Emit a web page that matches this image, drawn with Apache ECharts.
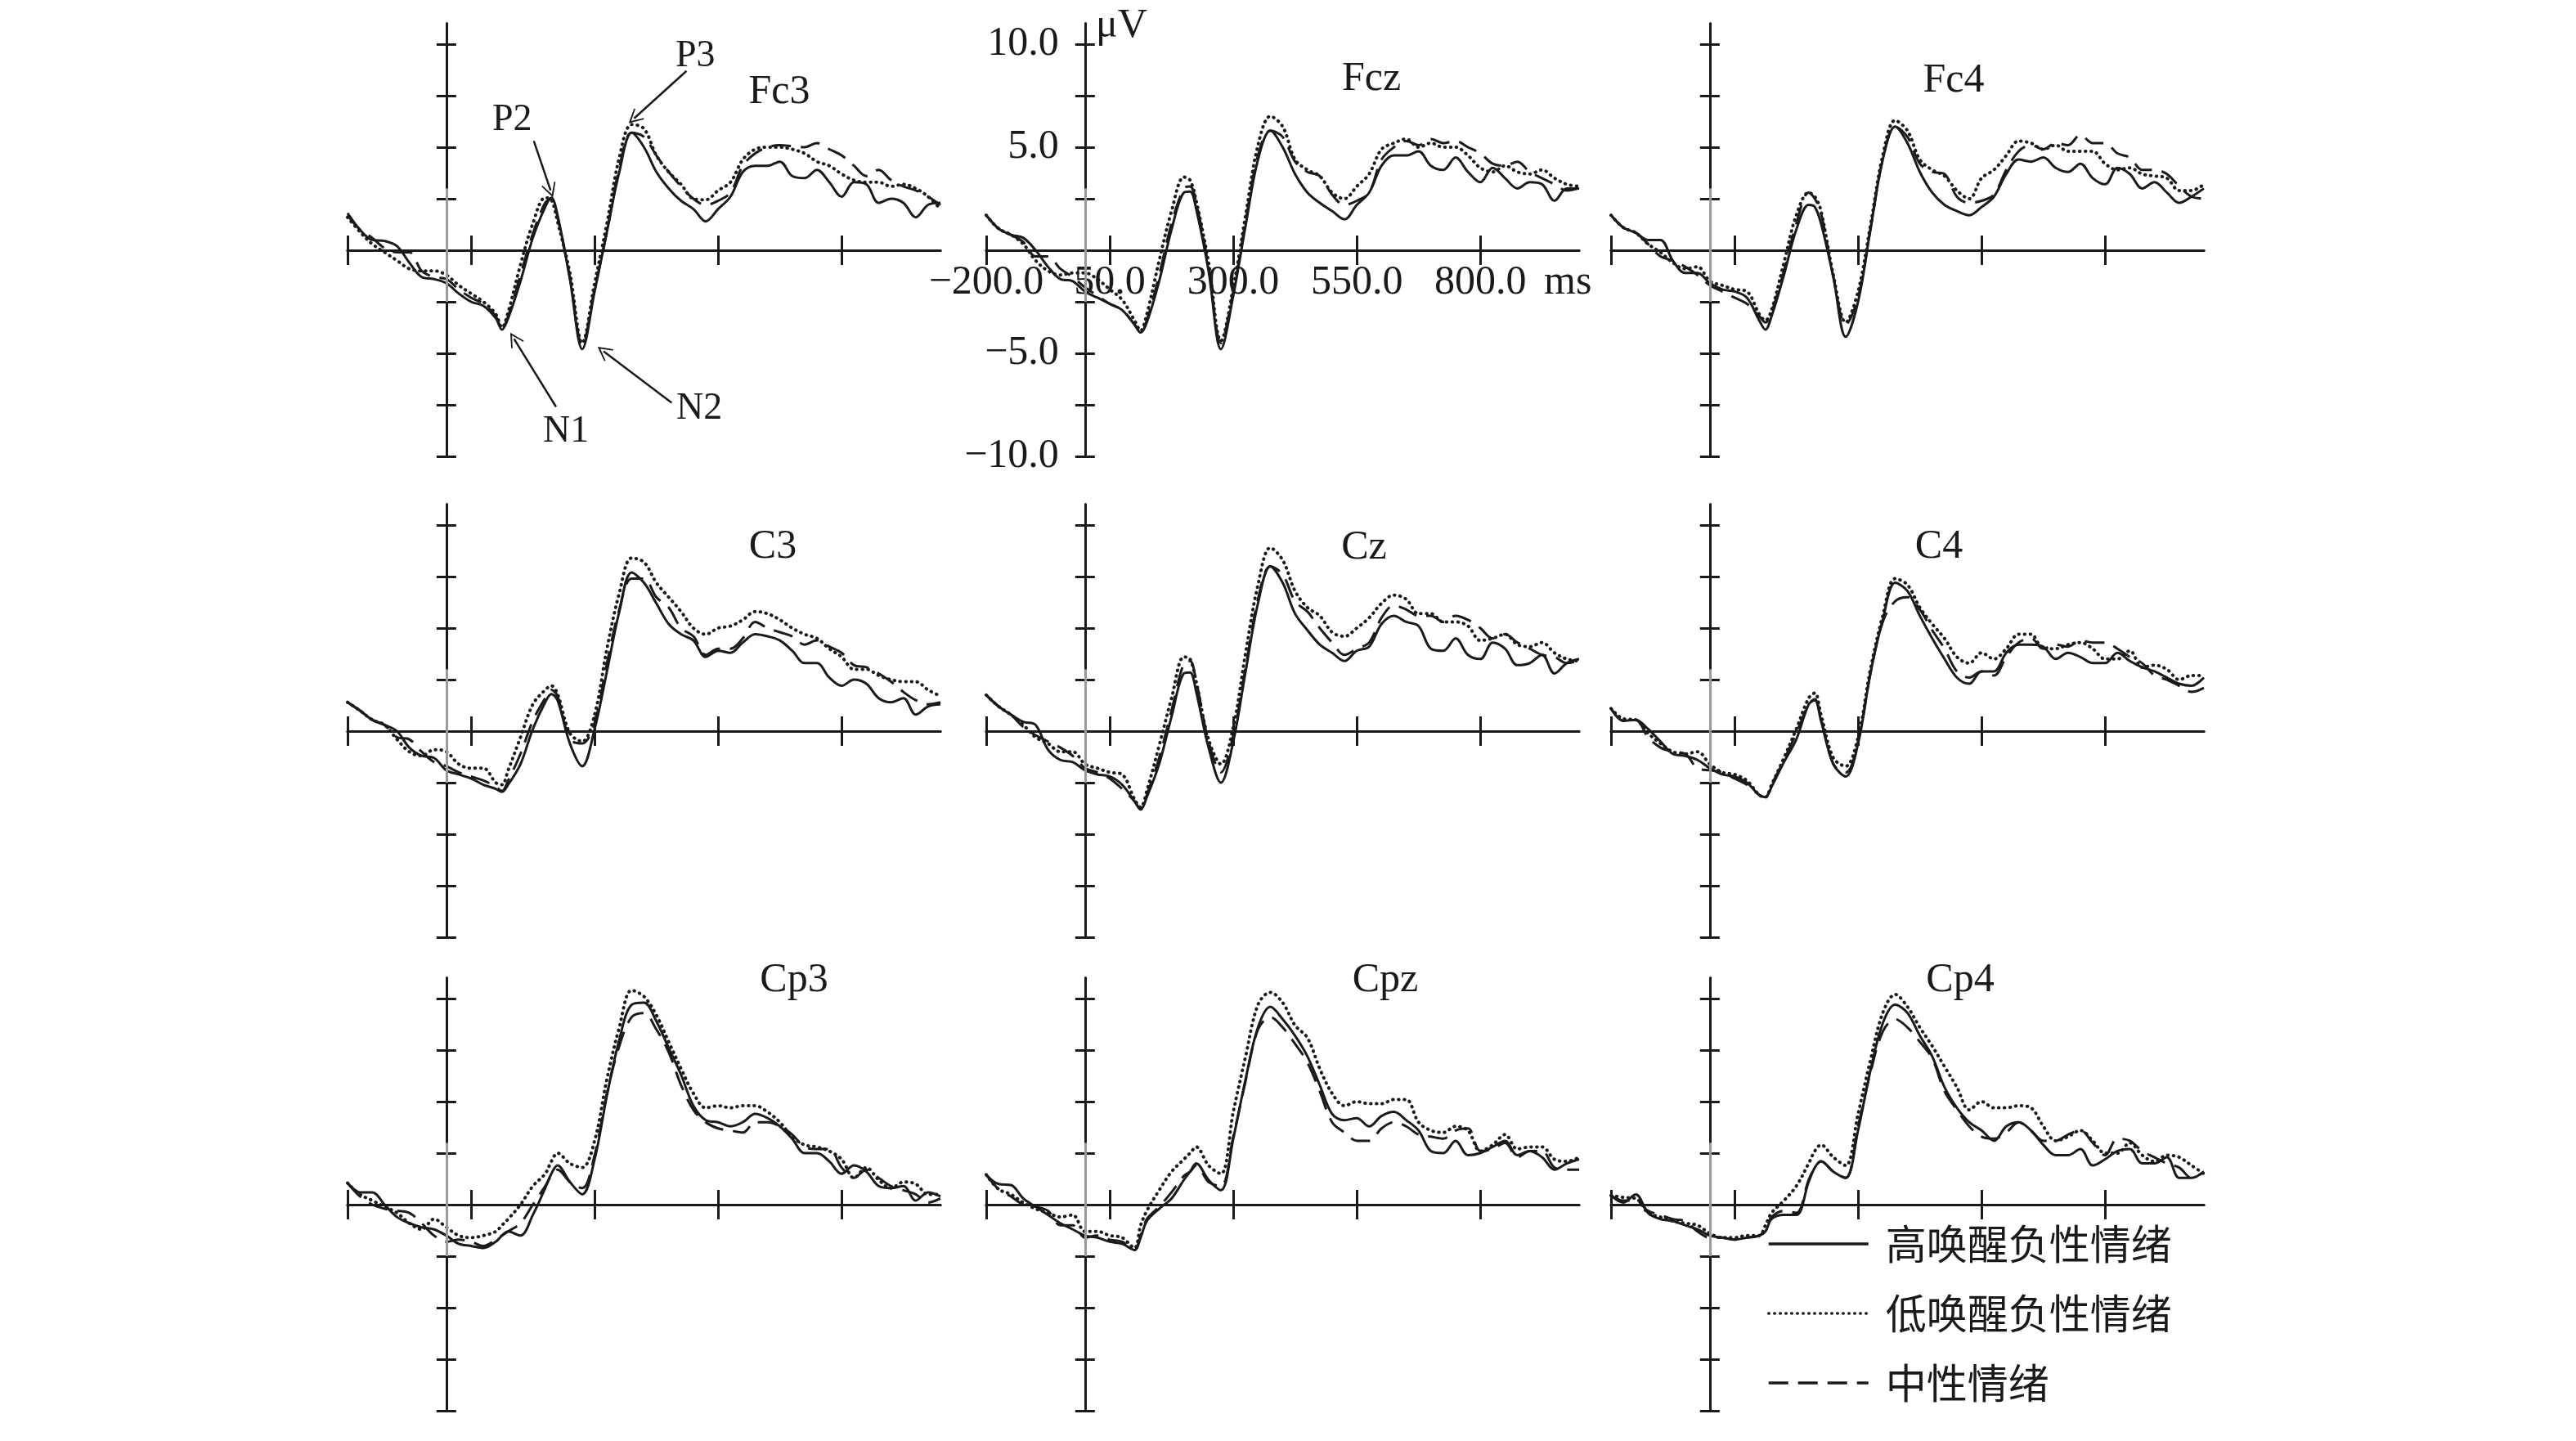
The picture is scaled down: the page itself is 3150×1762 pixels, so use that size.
<!DOCTYPE html>
<html>
<head>
<meta charset="utf-8">
<script src="https://cdn.jsdelivr.net/npm/echarts@6/dist/echarts.min.js"></script>
<style>
html, body { margin: 0; padding: 0; background: #fff; }
#chart { width: 3150px; height: 1762px; }
</style>
</head>
<body>
<div id="chart"></div>
<script>
// time points (ms)
var times = [-200, -175, -150, -125, -100, -75, -50, -25, 0, 25, 50, 75, 100, 112.5,
  125, 150, 175, 200, 212.5,
  225, 250, 275, 300, 325, 350, 375, 400, 425, 450, 475, 500, 525, 550, 575, 600,
  625, 650, 675, 700, 725, 750, 775, 800, 825, 850, 875, 900, 925, 950, 975, 1000];

var seriesNames = ['高唤醒负性情绪', '低唤醒负性情绪', '中性情绪'];
var channels = ['Fc3', 'Fcz', 'Fc4', 'C3', 'Cz', 'C4', 'Cp3', 'Cpz', 'Cp4'];
var xTickValues = [-200, 50, 300, 550, 800];
var yTickValues = [-10, -7.5, -5, -2.5, 0, 2.5, 5, 7.5, 10];
var yLabelValues = [-10, -5, 5, 10];

// amplitudes (μV): high arousal / low arousal / neutral
var fc3High = [1.8, 1.0, 0.5, 0.45, 0.2, -0.6, -1.3, -1.4, -1.6, -2.1, -2.5, -2.7, -3.3, -3.85,
  -3.3, -1.5, 0.6, 2.1, 2.55,
  1.7, -1.4, -4.8, -2.0, 0.9, 3.8, 5.7, 5.0, 3.8, 3.0, 2.4, 2.0, 1.4, 2.0, 2.6, 3.8,
  4.1, 4.1, 4.3, 3.6, 3.5, 3.9, 3.3, 2.6, 3.3, 3.2, 2.3, 2.5, 2.3, 1.6, 2.2, 2.3];
var fc3Low = [1.6, 0.9, 0.3, -0.1, -0.5, -0.9, -1.0, -1.0, -1.2, -1.7, -2.1, -2.5, -3.1, -3.75,
  -3.0, -0.7, 1.3, 2.55, 2.45,
  1.4, -1.1, -4.5, -1.6, 1.3, 4.5, 6.1, 5.9, 4.6, 3.8, 3.2, 2.5, 2.45, 2.9, 3.3, 4.4,
  4.9, 5.0, 5.0, 4.9, 4.7, 4.3, 4.1, 3.7, 3.4, 3.3, 3.3, 3.1, 3.2, 3.0, 2.6, 2.0];
var fc3Neutral = [1.7, 1.0, 0.6, 0.1, -0.1, -0.1, -1.0, -1.3, -1.4, -1.9, -2.3, -2.6, -3.2, -3.8,
  -3.2, -1.2, 0.8, 2.3, 2.5,
  1.6, -1.3, -4.6, -1.9, 0.9, 4.0, 5.7, 5.5, 4.6, 3.8, 3.1, 2.5, 2.2, 2.4, 2.8, 4.1,
  4.7, 5.0, 5.1, 5.05, 5.0, 5.2, 4.9, 4.6, 4.1, 3.6, 3.9, 3.4, 3.1, 2.9, 2.6, 2.2];

var fczHigh = [1.7, 1.05, 0.75, 0.6, 0.0, -0.8, -1.4, -1.5, -2.0, -2.3, -2.6, -2.9, -3.6, -4.0,
  -3.5, -1.5, 1.0, 2.8, 2.85,
  2.0, -1.0, -4.8, -2.2, 1.2, 4.4, 5.8, 5.0, 3.7, 2.8, 2.3, 1.9, 1.5, 2.2, 2.8, 4.1,
  4.6, 4.6, 4.8, 4.1, 3.9, 4.5, 3.8, 3.3, 4.0, 3.5, 3.0, 3.3, 3.2, 2.4, 3.0, 3.0];
var fczLow = [1.7, 1.05, 0.75, 0.3, -0.5, -1.0, -1.2, -1.1, -1.1, -1.4, -1.9, -2.4, -3.4, -3.9,
  -3.1, -0.5, 1.9, 3.55, 3.4,
  2.4, -0.6, -4.4, -1.8, 1.7, 5.1, 6.5, 6.0, 4.4, 3.9, 3.6, 2.8, 2.5, 3.1, 3.7, 4.9,
  5.2, 5.4, 5.0, 5.2, 5.0, 5.0, 4.6, 4.0, 3.8, 4.1, 3.8, 3.7, 3.9, 3.5, 3.2, 3.1];
var fczNeutral = [1.7, 1.05, 0.75, 0.4, -0.3, -0.3, -0.9, -1.3, -1.8, -2.2, -2.6, -2.9, -3.6, -4.0,
  -3.4, -1.2, 1.3, 3.0, 3.1,
  2.3, -0.8, -4.5, -2.0, 1.4, 4.6, 5.8, 5.5, 4.3, 3.8, 3.6, 2.7, 2.2, 2.4, 2.8, 4.4,
  5.0, 5.3, 5.1, 5.4, 5.2, 5.3, 5.0, 4.7, 4.2, 4.1, 4.3, 3.8, 3.5, 3.2, 2.9, 3.0];

var fc4High = [1.7, 1.1, 0.85, 0.5, 0.5, -0.5, -1.1, -1.1, -1.6, -1.9, -2.0, -2.3, -3.4, -3.85,
  -3.2, -1.2, 1.0, 2.2, 2.1,
  1.3, -1.3, -4.2, -2.5, 1.0, 4.4, 6.0, 5.2, 3.8, 2.8, 2.2, 1.9, 1.7, 2.1, 2.6, 3.7,
  4.4, 4.3, 4.5, 4.0, 3.8, 4.2, 3.5, 3.2, 4.0, 3.7, 3.0, 3.3, 2.8, 2.3, 2.6, 3.0];
var fc4Low = [1.7, 1.1, 0.85, 0.3, -0.1, -0.6, -0.9, -0.8, -1.5, -1.7, -1.9, -2.0, -3.1, -3.4,
  -2.9, -0.6, 1.7, 2.8, 2.6,
  1.9, -1.2, -3.5, -2.0, 1.2, 4.6, 6.3, 5.8, 4.4, 3.9, 3.6, 2.9, 2.5, 3.5, 3.9, 4.6,
  5.3, 5.2, 4.9, 5.1, 4.8, 4.8, 4.8, 4.2, 3.9, 4.0, 3.7, 3.6, 3.5, 2.9, 2.9, 3.2];
var fc4Neutral = [1.7, 1.1, 0.85, 0.3, -0.3, -0.5, -0.8, -1.2, -1.7, -2.0, -2.3, -2.6, -3.2, -3.5,
  -3.0, -1.0, 1.3, 2.8, 2.5,
  1.8, -1.3, -3.6, -2.3, 1.0, 4.4, 6.0, 5.5, 4.2, 3.8, 3.7, 2.6, 2.3, 2.4, 2.7, 3.9,
  4.8, 5.1, 4.9, 5.2, 5.1, 5.6, 5.2, 5.2, 4.7, 4.5, 3.9, 3.9, 3.7, 3.1, 2.6, 2.5];

var c3High = [1.4, 1.0, 0.55, 0.3, 0.0, -0.8, -1.2, -1.3, -1.9, -2.1, -2.3, -2.6, -2.8, -2.95,
  -2.6, -1.6, 0.1, 1.4, 1.8,
  1.5, -0.6, -1.7, 0.1, 2.9, 5.8, 7.7, 7.2, 6.2, 5.2, 4.7, 4.4, 3.6, 3.9, 3.8, 4.3,
  4.7, 4.6, 4.4, 3.9, 3.3, 3.3, 2.6, 2.2, 2.5, 2.3, 1.6, 1.4, 1.6, 0.8, 1.2, 1.3];
var c3Low = [1.4, 1.0, 0.55, 0.3, -0.4, -1.0, -1.2, -0.9, -1.0, -1.6, -1.8, -1.8, -2.5, -2.6,
  -1.9, -0.3, 1.3, 2.0, 2.2,
  1.8, -0.1, -0.5, 0.8, 4.0, 6.7, 8.4, 8.2, 7.2, 6.5, 5.8, 5.0, 4.7, 5.0, 5.1, 5.4,
  5.8, 5.7, 5.4, 5.0, 4.7, 4.5, 4.0, 3.6, 3.0, 3.0, 2.7, 2.5, 2.4, 2.4, 2.0, 1.7];
var c3Neutral = [1.4, 1.0, 0.55, 0.3, -0.3, -0.4, -1.0, -1.5, -1.7, -2.0, -2.2, -2.4, -2.7, -2.9,
  -2.4, -1.1, 0.5, 1.6, 2.0,
  1.7, -0.4, -0.6, 0.4, 3.3, 5.9, 7.4, 7.4, 6.5, 6.0, 5.0, 4.6, 3.7, 4.0, 4.0, 4.5,
  5.3, 5.0, 4.8, 4.6, 4.2, 4.4, 4.1, 3.8, 3.2, 3.1, 2.8, 2.4, 1.9, 1.5, 1.3, 1.4];

var czHigh = [1.75, 1.2, 0.8, 0.45, 0.3, -0.9, -1.4, -1.5, -1.9, -2.1, -2.2, -2.6, -3.4, -3.8,
  -3.2, -1.6, 0.7, 2.8, 2.85,
  1.9, -0.8, -2.5, -0.5, 2.9, 6.2, 8.0, 7.2, 5.7, 4.9, 4.2, 3.8, 3.4, 3.9, 4.1, 5.2,
  5.6, 5.3, 5.1, 4.0, 3.9, 4.5, 3.7, 3.5, 4.3, 4.0, 3.2, 3.3, 3.7, 2.8, 3.3, 3.5];
var czLow = [1.75, 1.2, 0.8, 0.3, -0.3, -0.6, -1.0, -1.0, -1.6, -1.8, -2.0, -2.1, -3.3, -3.7,
  -2.9, -0.7, 1.6, 3.6, 3.5,
  2.4, -0.4, -1.6, 0.2, 3.8, 7.1, 8.9, 8.3, 6.8, 6.0, 5.6, 4.8, 4.6, 5.0, 5.5, 6.2,
  6.6, 6.4, 5.7, 5.7, 5.3, 5.3, 5.1, 4.4, 4.5, 4.7, 4.2, 4.1, 4.3, 3.8, 3.5, 3.4];
var czNeutral = [1.75, 1.2, 0.8, 0.2, -0.2, -0.5, -0.8, -1.2, -1.8, -2.0, -2.3, -2.8, -3.4, -3.8,
  -3.1, -1.3, 1.0, 3.3, 3.4,
  2.4, -0.5, -2.0, -0.2, 3.1, 6.4, 8.0, 7.6, 6.3, 5.8, 5.0, 4.3, 3.7, 4.0, 4.3, 5.5,
  6.1, 5.9, 5.6, 5.6, 5.3, 5.6, 5.4, 5.0, 4.5, 4.7, 4.3, 4.0, 3.7, 3.6, 3.3, 3.4];

var c4High = [1.1, 0.5, 0.55, 0.1, -0.5, -1.1, -1.2, -1.4, -1.8, -2.1, -2.2, -2.5, -3.1, -3.2,
  -2.7, -1.5, -0.4, 1.3, 1.5,
  0.5, -1.6, -2.2, -0.6, 2.8, 5.4, 7.2, 6.8, 5.6, 4.5, 3.5, 2.6, 2.3, 2.9, 2.9, 3.8,
  4.2, 4.2, 4.1, 3.5, 3.8, 3.6, 3.3, 3.3, 3.8, 3.4, 3.1, 2.9, 2.6, 2.3, 2.2, 2.6];
var c4Low = [1.1, 0.6, 0.55, -0.1, -0.6, -1.0, -1.1, -1.0, -1.6, -2.0, -2.1, -2.4, -3.1, -3.2,
  -2.6, -1.3, 0.1, 1.6, 1.85,
  0.8, -1.3, -1.7, -0.3, 3.0, 5.6, 7.4, 7.1, 6.0, 5.2, 4.5, 3.6, 3.3, 3.8, 3.5, 4.0,
  4.7, 4.7, 4.0, 4.0, 4.2, 4.3, 4.0, 3.5, 3.5, 3.9, 3.1, 3.2, 3.0, 2.5, 2.7, 2.7];
var c4Neutral = [1.1, 0.5, 0.55, -0.3, -0.8, -1.0, -1.1, -1.8, -1.9, -2.0, -2.3, -2.6, -3.1, -3.2,
  -2.6, -1.4, -0.1, 1.3, 1.55,
  0.6, -1.6, -2.0, -0.5, 2.8, 5.3, 6.3, 6.5, 5.9, 4.9, 4.0, 2.9, 2.6, 2.9, 2.7, 3.6,
  4.3, 4.5, 4.0, 4.2, 4.1, 4.4, 4.3, 4.3, 4.0, 3.6, 3.3, 2.7, 2.5, 2.2, 1.9, 2.1];

var cp3High = [1.05, 0.6, 0.6, 0.0, -0.6, -0.9, -1.1, -1.2, -1.5, -1.9, -2.0, -2.1, -1.8, -1.5,
  -1.3, -1.5, -0.5, 0.8, 1.5,
  1.9, 1.1, 0.5, 2.2, 5.3, 8.0, 9.7, 9.8, 8.9, 7.6, 6.3, 4.8, 4.1, 4.0, 3.8, 4.0,
  4.4, 4.2, 3.8, 3.2, 2.5, 2.5, 2.1, 1.5, 1.9, 1.6, 0.9, 0.8, 0.9, 0.2, 0.6, 0.4];
var cp3Low = [1.05, 0.5, 0.2, -0.1, -0.4, -0.9, -1.2, -0.7, -1.1, -1.5, -1.6, -1.5, -1.3, -1.0,
  -0.7, 0.0, 0.9, 1.5, 2.1,
  2.5, 2.0, 1.8, 3.1, 6.1, 8.6, 10.4, 10.1, 9.2, 7.9, 6.6, 5.4, 4.7, 4.8, 4.7, 4.8,
  4.8, 4.5, 4.0, 3.3, 2.9, 2.8, 2.6, 2.2, 1.3, 1.8, 1.2, 0.8, 1.1, 1.0, 0.5, 0.5];
var cp3Neutral = [1.05, 0.4, 0.0, -0.2, -0.3, -0.4, -0.9, -1.5, -1.8, -1.7, -1.8, -2.0, -1.7, -1.5,
  -1.3, -0.9, 0.0, 0.9, 1.4,
  1.7, 1.1, 0.8, 2.4, 5.4, 7.7, 9.1, 9.3, 8.5, 7.4, 5.8, 4.6, 4.0, 3.7, 3.6, 3.5,
  4.0, 4.0, 3.8, 3.4, 2.8, 2.7, 2.7, 1.8, 1.3, 1.7, 1.3, 0.9, 0.7, 0.5, 0.1, 0.3];

var cpzHigh = [1.45, 1.0, 0.95, 0.3, -0.1, -0.5, -0.9, -1.2, -1.5, -1.6, -1.8, -1.9, -2.2, -1.6,
  -0.8, -0.2, 0.3, 1.2, 1.6,
  2.0, 1.2, 0.7, 3.2, 6.1, 8.6, 9.6, 9.0, 8.2, 7.2, 5.8, 4.4, 4.1, 4.2, 3.8, 4.3,
  4.5, 4.1, 3.6, 2.6, 2.5, 3.1, 2.4, 2.5, 2.8, 3.1, 2.4, 2.6, 2.3, 1.7, 2.0, 2.2];
var cpzLow = [1.45, 0.75, 0.5, 0.1, -0.2, -0.4, -0.6, -0.5, -1.3, -1.3, -1.5, -1.6, -2.1, -1.0,
  -0.3, 0.7, 1.6, 2.2, 2.5,
  2.8, 1.9, 1.5, 4.5, 7.2, 9.7, 10.3, 9.8, 8.7, 8.1, 6.6, 5.4, 4.8, 5.0, 4.9, 4.9,
  5.1, 5.1, 4.0, 3.6, 3.5, 3.8, 3.6, 2.6, 2.9, 3.4, 2.7, 2.8, 2.8, 2.2, 2.1, 2.3];
var cpzNeutral = [1.45, 0.75, 0.4, 0.0, -0.1, -0.3, -1.0, -1.0, -1.6, -1.5, -1.7, -1.8, -2.2, -1.5,
  -0.7, -0.1, 0.6, 1.4, 1.6,
  1.9, 1.1, 0.9, 3.3, 6.0, 8.5, 9.1, 8.6, 7.8, 6.9, 5.5, 4.0, 3.5, 3.1, 3.1, 3.7,
  4.0, 3.8, 3.4, 3.3, 3.2, 3.6, 3.7, 2.6, 2.7, 3.0, 2.3, 2.6, 2.6, 1.8, 1.7, 1.7];

var cp4High = [0.45, 0.1, 0.5, -0.4, -0.7, -0.8, -1.0, -1.2, -1.5, -1.6, -1.7, -1.6, -1.5, -1.3,
  -0.7, -0.5, -0.5, 1.1, 1.8,
  2.1, 1.6, 1.3, 3.6, 6.5, 8.8, 9.7, 9.3, 8.2, 7.2, 5.7, 4.7, 4.0, 3.6, 3.1, 3.8,
  4.0, 3.6, 2.9, 2.4, 2.4, 2.7, 1.9, 2.2, 2.6, 2.7, 2.0, 2.0, 2.3, 1.3, 1.3, 1.6];
var cp4Low = [0.45, 0.35, 0.3, -0.4, -0.6, -0.8, -0.9, -1.0, -1.4, -1.6, -1.6, -1.5, -1.5, -1.0,
  -0.4, 0.2, 0.9, 2.0, 2.6,
  2.9, 2.3, 1.9, 4.4, 7.0, 9.3, 10.2, 9.6, 8.6, 7.7, 6.7, 5.7, 4.6, 5.0, 4.7, 4.7,
  4.8, 4.7, 3.8, 3.1, 3.3, 3.6, 3.1, 2.5, 2.5, 3.0, 2.4, 2.1, 2.4, 2.3, 1.9, 1.5];
var cp4Neutral = [0.45, 0.2, 0.2, -0.3, -0.5, -0.7, -0.8, -1.3, -1.6, -1.6, -1.7, -1.6, -1.5, -1.2,
  -0.6, -0.3, -0.4, 1.2, 1.8,
  2.1, 1.6, 1.3, 3.8, 6.4, 8.4, 9.0, 8.6, 7.9, 7.1, 5.5, 4.6, 3.8, 3.3, 3.2, 3.5,
  4.0, 3.6, 3.1, 3.1, 3.4, 3.6, 3.0, 2.4, 3.2, 3.1, 2.6, 2.3, 2.0, 1.8, 1.3, 1.6];

// component labels on Fc3, [ms, μV]
var peakLabels = ['P2', 'P3', 'N1', 'N2'];
var peakLabelAt = [[133, 6.3], [504, 9.4], [242, -8.8], [512, -7.7]];
var arrowFrom = [[177, 5.3], [486, 8.7], [222, -7.6], [456, -7.4]];
var arrowTo = [[211, 2.9], [380, 6.4], [137, -4.3], [318, -4.9]];
var greySpan = [3, -2.5];

var channelData = [
  [fc3High, fc3Low, fc3Neutral], [fczHigh, fczLow, fczNeutral], [fc4High, fc4Low, fc4Neutral],
  [c3High, c3Low, c3Neutral], [czHigh, czLow, czNeutral], [c4High, c4Low, c4Neutral],
  [cp3High, cp3Low, cp3Neutral], [cpzHigh, cpzLow, cpzNeutral], [cp4High, cp4Low, cp4Neutral]
];

// layout
var ink = '#1a1a1a';
var serif = 'Liberation Serif';
var colLeft = [425, 1206, 1970];
var rowZero = [306, 894, 1473];
var plotWidth = 725;
var pxPerUv = 25.2;
var xMin = -200, xMax = 1000;
var yMin = -10, yMax = 11;
var titlePos = [[953, 113], [1677, 97], [2389, 99], [945, 669], [1668, 670], [2371, 669],
  [971, 1199], [1694, 1199], [2397, 1199]];

var lineStyles = [
  { color: ink, width: 3, type: 'solid' },
  { color: ink, width: 4, type: [0.5, 6.5], cap: 'round' },
  { color: ink, width: 3, type: [24, 12] }
];
var chevron = 'path://M0,0 L10,16 L8.5,17 L0,4 L-8.5,17 L-10,16 Z';

function fmt(v) {
  return v.toFixed(1).replace('-', '\u2212');
}

var grids = [], xAxes = [], yAxes = [], labelXAxes = [], labelYAxes = [], series = [], graphics = [];

channels.forEach(function (ch, k) {
  var col = k % 3, row = Math.floor(k / 3);
  grids.push({
    left: colLeft[col],
    top: rowZero[row] - yMax * pxPerUv,
    width: plotWidth,
    height: (yMax - yMin) * pxPerUv,
    outerBoundsMode: 'none'
  });
  // two axes per direction so the ticks cross the zero lines
  ['bottom', 'top'].forEach(function (pos, j) {
    xAxes.push({
      type: 'value', gridIndex: k, min: xMin, max: xMax, position: pos,
      axisLine: { show: true, onZero: true, onZeroAxisIndex: 2 * k + j, lineStyle: { color: ink, width: 3 } },
      axisTick: { show: true, inside: false, length: 18, customValues: xTickValues, lineStyle: { color: ink, width: 3 } },
      axisLabel: { show: false },
      splitLine: { show: false }
    });
  });
  ['left', 'right'].forEach(function (pos, j) {
    yAxes.push({
      type: 'value', gridIndex: k, min: yMin, max: yMax, position: pos,
      axisLine: { show: true, onZero: true, onZeroAxisIndex: 2 * k + j, lineStyle: { color: ink, width: 3 } },
      axisTick: { show: true, inside: false, length: 12, customValues: yTickValues, lineStyle: { color: ink, width: 3 } },
      axisLabel: { show: false },
      splitLine: { show: false }
    });
  });

  // tick labels only on the Fcz panel, on label-only axes shifted to the zero lines
  if (ch === 'Fcz') {
    labelXAxes.push({
      type: 'value', gridIndex: k, min: xMin, max: xMax, position: 'bottom',
      offset: yMin * pxPerUv,
      axisLine: { show: false, onZero: false },
      axisTick: { show: false },
      axisLabel: { show: true, customValues: xTickValues, formatter: fmt, margin: 15,
        fontSize: 50, fontFamily: serif, color: ink },
      splitLine: { show: false }
    });
    labelYAxes.push({
      type: 'value', gridIndex: k, min: yMin, max: yMax, position: 'left',
      offset: xMin * plotWidth / (xMax - xMin),
      axisLine: { show: false, onZero: false },
      axisTick: { show: false },
      axisLabel: { show: true, customValues: yLabelValues, formatter: fmt, margin: 32,
        fontSize: 50, fontFamily: serif, color: ink },
      splitLine: { show: false }
    });
  }

  channelData[k].forEach(function (vals, c) {
    var s = {
      name: seriesNames[c], type: 'line',
      xAxisIndex: 2 * k, yAxisIndex: 2 * k,
      data: times.map(function (t, i) { return [t, vals[i]]; }),
      symbol: 'none', smooth: 0.35, silent: true, animation: false,
      itemStyle: { color: ink },
      lineStyle: lineStyles[c]
    };
    if (c === 0) {
      s.markLine = {
        silent: true, animation: false, symbol: ['none', 'none'],
        label: { show: false },
        lineStyle: { color: '#9a9a9a', width: 3, type: 'solid' },
        data: [[{ coord: [0, greySpan[0]] }, { coord: [0, greySpan[1]] }]]
      };
    }
    if (k === 0 && c === 1) {
      s.markLine = {
        silent: true, animation: false, symbol: ['none', chevron], symbolSize: 18,
        label: { show: false },
        lineStyle: { color: ink, width: 2.5, type: 'solid' },
        data: arrowFrom.map(function (f, i) { return [{ coord: f }, { coord: arrowTo[i] }]; })
      };
    }
    if (k === 0 && c === 2) {
      s.markPoint = {
        silent: true, animation: false, symbol: 'circle', symbolSize: 1,
        itemStyle: { color: 'rgba(0,0,0,0)' },
        label: { show: true, position: 'inside', formatter: '{b}', fontSize: 46, fontFamily: serif, color: ink },
        data: peakLabels.map(function (n, i) { return { name: n, coord: peakLabelAt[i] }; })
      };
    }
    series.push(s);
  });

  graphics.push({
    type: 'text', x: titlePos[k][0], y: titlePos[k][1], silent: true,
    style: { text: ch, fill: ink, font: '50px "Liberation Serif"', align: 'center', verticalAlign: 'middle' }
  });
});

graphics.push({
  type: 'text', x: 1340, y: 32, silent: true,
  style: { text: 'μV', fill: ink, font: '50px "Liberation Serif"', align: 'left', verticalAlign: 'middle' }
});
graphics.push({
  type: 'text', x: 1888, y: 346, silent: true,
  style: { text: 'ms', fill: ink, font: '50px "Liberation Serif"', align: 'left', verticalAlign: 'middle' }
});

var chart = echarts.init(document.getElementById('chart'));
var option = {
  backgroundColor: '#fff',
  animation: false,
  grid: grids,
  xAxis: xAxes.concat(labelXAxes),
  yAxis: yAxes.concat(labelYAxes),
  legend: {
    data: seriesNames, orient: 'vertical', left: 2156, top: 1491,
    itemWidth: 122, itemHeight: 50, itemGap: 35, selectedMode: false,
    itemStyle: { opacity: 0 },
    lineStyle: { width: 3.5, color: ink },
    textStyle: { fontSize: 50, fontFamily: 'Noto Sans CJK SC', color: ink, padding: [0, 0, 0, 16] }
  },
  graphic: graphics,
  series: series
};
chart.setOption(option);
</script>
</body>
</html>
